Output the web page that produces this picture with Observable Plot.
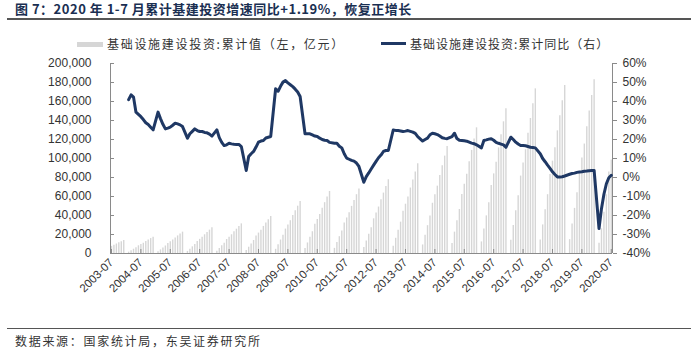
<!DOCTYPE html>
<html>
<head>
<meta charset="utf-8">
<script src="https://cdn.jsdelivr.net/npm/d3@7"></script>
<script src="https://cdn.jsdelivr.net/npm/@observablehq/plot@0.6"></script>
<style>
  html, body { margin: 0; padding: 0; background: #fff; }
  #wrap { position: relative; width: 693px; height: 359px; overflow: hidden; font-family: "Noto Sans CJK SC", sans-serif; }
  #title { position: absolute; left: 15px; top: 1px; font-size: 13px; font-weight: bold; color: #1a2f52; white-space: nowrap; line-height: 16px; letter-spacing: 0.5px; }
  #rule1 { position: absolute; left: 7px; top: 18px; width: 684px; height: 0; border-top: 2px solid #555; }
  .leg { position: absolute; top: 36px; font-size: 12px; color: #333; white-space: nowrap; line-height: 16px; }
  .sw-bar { position: absolute; top: 42px; height: 5px; background: #d6d6d6; }
  .sw-line { position: absolute; top: 42px; height: 3px; background: #1f3864; }
  #chart { position: absolute; left: 0; top: 55px; }
  #rule2 { position: absolute; left: 7px; top: 328px; width: 684px; height: 0; border-top: 1.5px solid #555; }
  #source { position: absolute; left: 15px; top: 333px; font-size: 12px; color: #333; white-space: nowrap; line-height: 16px; letter-spacing: 1.7px; }
</style>
</head>
<body>
<div id="wrap">
  <div id="title"></div>
  <div id="rule1"></div>
  <div class="sw-bar" style="left:77px;width:26px;"></div>
  <div class="leg" id="leg1" style="left:107px;letter-spacing:1.7px;"></div>
  <div class="sw-line" style="left:381px;width:25px;"></div>
  <div class="leg" id="leg2" style="left:410px;letter-spacing:1px;"></div>
  <div id="chart"></div>
  <div id="rule2"></div>
  <div id="source"></div>
</div>
<script>
// ---- texts ----
const titleText = "图 7：2020 年 1-7 月累计基建投资增速同比+1.19%，恢复正增长";
const legendBar = "基础设施建设投资:累计值（左，亿元）";
const legendLine = "基础设施建设投资:累计同比（右）";
const sourceText = "数据来源：国家统计局，东吴证券研究所";

// ---- categories: months 2003-07 .. 2020-07 (January not published) ----
const months = [];
for (let y = 2003; y <= 2020; y++) {
  for (let m = 2; m <= 12; m++) {
    if (y === 2003 && m < 7) continue;
    if (y === 2020 && m > 7) break;
    months.push(`${y}-${String(m).padStart(2, "0")}`);
  }
}

// ---- cumulative value (亿元), one row per year ----
const cum2003 = [7500, 8600, 10000, 11200, 12500, 13700];
const cum2004 = [1400, 2900, 4500, 6000, 8100, 9500, 10800, 12600, 14100, 15700, 17200];
const cum2005 = [1800, 3800, 5900, 7900, 10600, 12400, 14200, 16400, 18500, 20500, 22500];
const cum2006 = [2200, 4600, 7000, 9500, 12700, 14900, 17000, 19700, 22100, 24600, 27000];
const cum2007 = [2500, 5300, 8100, 10900, 14700, 17200, 19700, 22800, 25600, 28400, 31200];
const cum2008 = [3100, 6600, 10100, 13700, 18300, 21500, 24600, 28500, 32000, 35500, 39000];
const cum2009 = [4400, 9300, 14200, 19100, 25700, 30100, 34500, 39900, 44900, 49800, 54700];
const cum2010 = [5200, 11100, 17000, 22900, 30700, 35900, 41100, 47700, 53500, 59400, 65300];
const cum2011 = [5400, 11600, 17700, 23800, 32000, 37400, 42800, 49600, 55800, 61900, 68000];
const cum2012 = [6200, 13200, 20200, 27200, 36500, 42700, 48900, 56600, 63600, 70600, 77600];
const cum2013 = [7600, 16000, 24500, 33000, 44400, 51900, 59500, 68900, 77400, 85900, 94400];
const cum2014 = [9000, 19100, 29300, 39400, 52900, 61900, 70900, 82200, 92300, 102500, 112600];
const cum2015 = [10600, 22500, 34400, 46300, 62200, 72800, 83300, 96600, 108500, 120400, 132300];
const cum2016 = [12200, 25900, 39600, 53300, 71600, 83800, 96000, 111200, 124900, 138600, 152300];
const cum2017 = [13900, 29500, 45100, 60700, 81500, 95300, 109200, 126500, 142100, 157700, 173300];
const cum2018 = [14100, 30100, 46000, 61900, 83100, 97200, 111400, 129100, 145000, 160900, 176800];
const cum2019 = [14600, 31100, 47500, 64000, 85900, 100500, 115200, 133400, 149900, 166300, 182800];
const cum2020 = [10700, 26000, 43300, 61800, 85800, 98500];

// ---- cumulative YoY (%), from 2004-02 ----
const yoy2003 = [null, null, null, null, null, null];
const yoy2004 = [41, 43.5, 42.3, 34.4, 33.2, 32, 30.5, 28.8, 27.9, 26.5, 25.1];
const yoy2005 = [34.4, 31, 28, 25.6, 26, 26.5, 27.5, 28.6, 28.2, 27.7, 26.8];
const yoy2006 = [20.7, 23, 24.3, 25.6, 24.7, 24.2, 24.2, 23.7, 23.5, 22.8, 21.8];
const yoy2007 = [25.1, 21, 18.5, 16.8, 17.2, 18, 17.7, 17.5, 17.4, 17.4, 16.3];
const yoy2008 = [3.7, 11, 12.5, 13.7, 16, 18.6, 19.2, 19.5, 20.8, 21.2, 21.6];
const yoy2009 = [46.7, 45.4, 48, 50.2, 51, 49.8, 48.8, 47.8, 46.5, 45, 42.6];
const yoy2010 = [23, 23, 23, 22.4, 21.8, 21.6, 20.7, 20, 19.6, 19.5, 18.5];
const yoy2011 = [18, 18, 16.5, 15.6, 12.5, 10.2, 9.6, 9, 8.6, 7.6, 5.8];
const yoy2012 = [-2.5, 0.5, 2.4, 4.5, 6.5, 8.5, 10.4, 11.8, 13.7, 14.2, 14.2];
const yoy2013 = [25, 24.8, 24.7, 24.5, 24.2, 24.4, 24.7, 24.3, 23.9, 23.2, 21.5];
const yoy2014 = [19.2, 20, 20.7, 22.5, 23.3, 23, 22.6, 21.8, 20.9, 20.6, 20.4];
const yoy2015 = [21.5, 23.3, 20.5, 19.6, 19.5, 19.3, 19.1, 18.6, 18.1, 17.8, 17.2];
const yoy2016 = [15.6, 19.5, 19.8, 20.2, 20.4, 19.6, 18.5, 18, 17.6, 17.2, 15.9];
const yoy2017 = [21.2, 20, 18.6, 17.6, 16.8, 16.8, 16.7, 16.3, 15.9, 15.8, 15.6];
const yoy2018 = [12.5, 10, 8.3, 6.5, 4.8, 3, 1.6, 0.3, 0.2, 0.4, 0.8];
const yoy2019 = [1.7, 2.1, 2.3, 2.7, 2.9, 3, 3.3, 3.4, 3.6, 3.7, 3.7];
const yoy2020 = [-26.9, -16.4, -8.8, -3.3, -0.1, 1.19];

// ---- axis ticks ----
const leftTicks = [0, 20000, 40000, 60000, 80000, 100000, 120000, 140000, 160000, 180000, 200000];
const rightTicks = [-40, -30, -20, -10, 0, 10, 20, 30, 40, 50, 60];
const xTickLabels = ["2003-07","2004-07","2005-07","2006-07","2007-07","2008-07","2009-07","2010-07","2011-07","2012-07","2013-07","2014-07","2015-07","2016-07","2017-07","2018-07","2019-07","2020-07"];

// ---- build tables ----
const cumValue = [].concat(cum2003, cum2004, cum2005, cum2006, cum2007, cum2008, cum2009, cum2010, cum2011, cum2012, cum2013, cum2014, cum2015, cum2016, cum2017, cum2018, cum2019, cum2020);
const yoyPct = [].concat(yoy2003, yoy2004, yoy2005, yoy2006, yoy2007, yoy2008, yoy2009, yoy2010, yoy2011, yoy2012, yoy2013, yoy2014, yoy2015, yoy2016, yoy2017, yoy2018, yoy2019, yoy2020);

const monthIndex = s => { const [y, m] = s.split("-").map(Number); return (y - 2003) * 12 + (m - 7); };
const table = months.map((s, k) => ({ month: s, i: monthIndex(s), v: cumValue[k], p: yoyPct[k] }));

// secondary (right) axis: -40%..60% shares the left 0..200,000 range
const pLo = -40, pHi = 60, vHi = 200000;
const toLeft = p => (p - pLo) / (pHi - pLo) * vHi;
const fromLeft = v => v / vHi * (pHi - pLo) + pLo;
const lineData = table.filter(d => d.p != null).map(d => ({ i: d.i, y: toLeft(d.p) }));

const xDomain = [-0.4, monthIndex("2020-07") + 0.5];
const xTicks = xTickLabels.map(monthIndex);
const labelOf = new Map(xTickLabels.map(s => [monthIndex(s), s]));

const chart = Plot.plot({
  width: 693,
  height: 265,
  marginTop: 8,
  marginBottom: 67,
  marginLeft: 110,
  marginRight: 81,
  x: { type: "linear", domain: xDomain, axis: null, label: null },
  y: { domain: [0, vHi], axis: null, label: null },
  style: { fontFamily: "'Liberation Sans', Arial, sans-serif", fontSize: "11.5px", color: "#333", background: "transparent", overflow: "visible" },
  marks: [
    Plot.ruleX(table, { x: "i", y1: 0, y2: "v", stroke: "#d6d6d6", strokeWidth: 1.4 }),
    Plot.ruleX([xDomain[0], xDomain[1]], { stroke: "#8a8a8a", strokeWidth: 1 }),
    Plot.ruleY([0], { stroke: "#8a8a8a", strokeWidth: 1 }),
    // left axis
    Plot.axisY({ anchor: "left", label: null, ticks: leftTicks, tickFormat: d3.format(","), tickSize: 0, tickPadding: 19, fontSize: 12 }),
    Plot.axisY({ anchor: "left", label: null, ticks: leftTicks, tickFormat: () => "", tickSize: 4, dx: 4, stroke: "#8a8a8a" }),
    // right axis
    Plot.axisY({ anchor: "right", label: null, ticks: rightTicks.map(toLeft), tickFormat: v => `${Math.round(fromLeft(v))}%`, tickSize: 4, tickPadding: 6, stroke: "#8a8a8a", fontSize: 12 }),
    // bottom axis
    Plot.axisX({ anchor: "bottom", label: null, ticks: xTicks, tickFormat: () => "", tickSize: 4, dy: -4, stroke: "#8a8a8a" }),
    Plot.axisX({ anchor: "bottom", label: null, ticks: xTicks, tickFormat: i => labelOf.get(i), tickRotate: -45, tickSize: 0, tickPadding: 7, fontSize: 11.5 }),
    // line
    Plot.line(lineData, { x: "i", y: "y", stroke: "#1f3864", strokeWidth: 3, strokeLinejoin: "round", strokeLinecap: "round" })
  ]
});

document.getElementById("chart").appendChild(chart);
document.getElementById("title").textContent = titleText;
document.getElementById("leg1").textContent = legendBar;
document.getElementById("leg2").textContent = legendLine;
document.getElementById("source").textContent = sourceText;
</script>
</body>
</html>
